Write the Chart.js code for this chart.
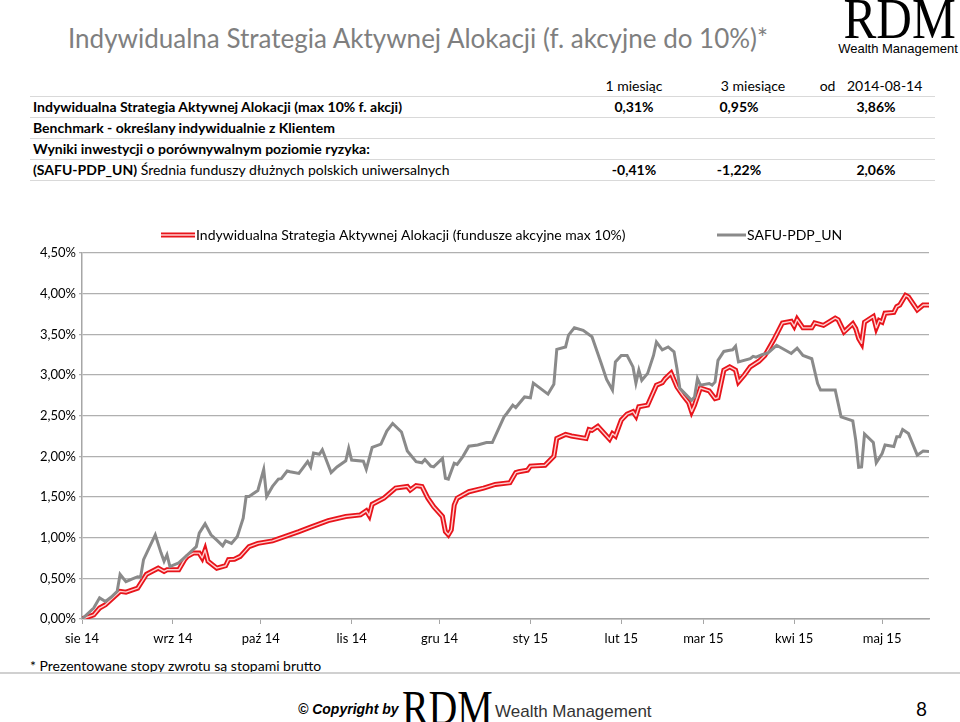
<!DOCTYPE html>
<html lang="pl">
<head>
<meta charset="utf-8">
<title>Indywidualna Strategia Aktywnej Alokacji</title>
<script src="https://cdn.jsdelivr.net/npm/chart.js@4.4.1/dist/chart.umd.min.js"></script>
<style>
  html, body { margin: 0; padding: 0; background: #fff; }
  body { width: 960px; height: 722px; position: relative; overflow: hidden; font-family: Lato, "Open Sans", sans-serif; color: #000; }
  .title { position: absolute; left: 68px; top: 22px; font-size: 26px; line-height: 32px; color: #7f7f7f; white-space: nowrap; }
  .logo { position: absolute; left: 836px; top: -4px; width: 124px; text-align: center; }
  .logo .rdm { display: block; font-family: "Liberation Serif", serif; font-size: 56px; line-height: 46px; transform: scaleX(0.88); }
  .logo .wm { display: block; font-family: "Liberation Sans", Arial, sans-serif; font-size: 13px; line-height: 14px; }
  .tbl { position: absolute; left: 30px; top: 76px; width: 905px; }
  .row { position: relative; height: 20px; line-height: 20px; border-bottom: 1px solid #d9d9d9; font-size: 14px; white-space: nowrap; }
  .row .lab { position: absolute; left: 3px; }
  .row .val { position: absolute; width: 140px; margin-left: -70px; text-align: center; }
  .row .val.wide { word-spacing: 8px; }
  .b { font-weight: bold; }
  #wrap { position: absolute; left: 0; top: 215px; width: 960px; height: 440px; }
  .note { position: absolute; left: 30px; top: 656px; font-size: 14px; line-height: 20px; white-space: nowrap; }
  .sep { position: absolute; left: 0; top: 672px; width: 960px; height: 0; border-top: 2px solid #d0d0d0; }
  .copy { position: absolute; left: 298px; top: 701px; font-family: "Liberation Sans", Arial, sans-serif; font-size: 14px; font-weight: bold; font-style: italic; white-space: nowrap; }
  .frdm { position: absolute; left: 402px; top: 684px; font-family: "Liberation Serif", serif; font-size: 48px; line-height: 48px; transform: scaleX(0.83); transform-origin: left top; }
  .fwm { position: absolute; left: 495px; top: 702px; font-family: "Liberation Sans", Arial, sans-serif; font-size: 17px; color: #333; white-space: nowrap; }
  .page { position: absolute; left: 916px; top: 697px; font-size: 19px; }
</style>
</head>
<body>
<div class="title">Indywidualna Strategia Aktywnej Alokacji (f. akcyjne do 10%)*</div>
<div class="logo"><span class="rdm">RDM</span><span class="wm">Wealth Management</span></div>
<div class="tbl" id="tbl"></div>
<div id="wrap"><canvas id="chart"></canvas></div>
<div class="note">* Prezentowane stopy zwrotu są stopami brutto</div>
<div class="sep"></div>
<div class="copy">© Copyright by</div>
<div class="frdm">RDM</div>
<div class="fwm">Wealth Management</div>
<div class="page">8</div>
<script>
// okresy i stopy zwrotu z tabeli
const periodLabels = ['1 miesiąc', '3 miesiące', 'od 2014-08-14'];
const strategyReturns = ['0,31%', '0,95%', '3,86%'];
const safuReturns = ['-0,41%', '-1,22%', '2,06%'];

// os X: dni od 2014-08-01
const monthDays = [0, 31, 61, 92, 122, 153, 184, 212, 243, 273];
const monthLabels = ['sie 14', 'wrz 14', 'paź 14', 'lis 14', 'gru 14', 'sty 15', 'lut 15', 'mar 15', 'kwi 15', 'maj 15'];
const lastDay = 289;

const strategyDays = [0,4,6,8,13,15,19,22,26,28,29,33,35,36,38,40,41,42,43,46,49,50,52,54,55,57,60,65,74,78,84,90,95,97,98,99,103,107,111,112,114,116,118,120,123,124,125,126,127,128,132,137,141,146,148,149,152,153,158,161,162,165,167,172,173,174,176,180,181,182,184,186,188,189,190,193,196,198,199,201,203,205,207,208,209,211,214,216,217,219,221,223,224,226,228,231,233,236,239,242,243,244,246,249,250,253,257,258,260,263,264,265,266,267,270,271,272,273,274,277,278,279,281,282,285,287,289];
const strategyValues = [0,0.05,0.135,0.175,0.34,0.33,0.38,0.55,0.625,0.585,0.605,0.605,0.73,0.77,0.81,0.81,0.75,0.85,0.71,0.625,0.655,0.73,0.735,0.77,0.81,0.89,0.93,0.96,1.075,1.13,1.21,1.26,1.28,1.33,1.27,1.41,1.485,1.61,1.63,1.585,1.64,1.63,1.485,1.38,1.26,1.075,1.035,1.095,1.40,1.485,1.565,1.61,1.655,1.675,1.80,1.81,1.83,1.88,1.89,2.00,2.22,2.27,2.25,2.22,2.33,2.32,2.37,2.21,2.28,2.25,2.445,2.52,2.55,2.495,2.61,2.63,2.875,2.905,2.955,3.025,2.855,2.75,2.66,2.55,2.63,2.84,2.805,2.71,2.72,3.06,3.10,3.06,2.915,3.00,3.10,3.17,3.24,3.43,3.64,3.66,3.60,3.685,3.58,3.58,3.64,3.61,3.70,3.68,3.53,3.63,3.57,3.45,3.39,3.65,3.72,3.58,3.67,3.65,3.76,3.77,3.84,3.86,3.98,3.96,3.80,3.86,3.86];

const safuDays = [0,4,6,8,10,12,13,15,17,19,20,21,25,27,28,29,30,33,36,39,40,42,44,46,48,49,51,53,55,56,57,60,62,63,65,67,68,70,71,74,77,78,79,81,82,85,87,90,91,92,96,97,99,102,104,106,109,111,114,116,117,119,120,123,124,125,127,128,130,132,135,138,140,144,145,147,148,151,153,154,159,161,162,165,166,168,171,174,177,179,181,182,184,186,188,189,190,191,193,195,196,198,200,202,203,204,208,209,210,211,214,215,216,217,219,221,222,223,224,228,229,230,232,234,237,242,244,246,249,251,252,257,259,263,264,265,266,267,270,271,273,274,277,278,279,280,282,285,287,289];
const safuValues = [0,0.135,0.26,0.215,0.27,0.34,0.55,0.46,0.49,0.52,0.515,0.73,1.035,0.81,0.71,0.79,0.645,0.69,0.79,0.89,1.055,1.17,1.035,0.97,0.90,0.96,0.93,1.015,1.24,1.505,1.505,1.58,1.84,1.505,1.63,1.72,1.725,1.82,1.81,1.79,1.935,1.87,2.04,2.025,2.08,1.80,1.87,1.945,2.10,1.955,1.94,1.84,2.11,2.15,2.31,2.405,2.30,2.065,1.935,1.92,1.96,1.88,1.87,1.975,1.73,1.72,1.915,1.90,2.00,2.125,2.14,2.17,2.17,2.485,2.53,2.63,2.60,2.73,2.72,2.90,2.765,2.885,3.315,3.345,3.49,3.58,3.55,3.47,3.16,2.945,2.815,3.16,3.24,3.24,3.10,2.90,3.06,2.935,3.02,3.24,3.405,3.31,3.345,3.285,3.08,2.835,2.69,2.73,2.955,2.875,2.895,2.875,2.915,3.18,3.29,3.305,3.31,3.355,3.16,3.20,3.23,3.22,3.25,3.27,3.365,3.265,3.33,3.24,3.20,2.895,2.815,2.815,2.485,2.435,2.20,1.865,1.87,2.275,2.17,1.92,2.035,2.14,2.12,2.24,2.24,2.33,2.28,2.015,2.065,2.06];

const strategyName = 'Indywidualna Strategia Aktywnej Alokacji (fundusze akcyjne max 10%)';
const safuName = 'SAFU-PDP_UN';

// tabela
const headCenters = [604, 723, 841];
const valCenters = [604, 709, 846];
const rows = [
  { head: true, lab: '', vals: periodLabels, centers: headCenters, bold: false },
  { lab: '<span class="b">Indywidualna Strategia Aktywnej Alokacji (max 10% f. akcji)</span>', vals: strategyReturns, centers: valCenters, bold: true },
  { lab: '<span class="b">Benchmark - określany indywidualnie z Klientem</span>', vals: [], centers: valCenters, bold: true },
  { lab: '<span class="b">Wyniki inwestycji o porównywalnym poziomie ryzyka:</span>', vals: [], centers: valCenters, bold: true },
  { lab: '<span class="b">(SAFU-PDP_UN)</span> Średnia funduszy dłużnych polskich uniwersalnych', vals: safuReturns, centers: valCenters, bold: true }
];
const tbl = document.getElementById('tbl');
rows.forEach(r => {
  const div = document.createElement('div');
  div.className = 'row';
  let html = '<span class="lab">' + r.lab + '</span>';
  r.vals.forEach((v, i) => {
    let cls = 'val' + (r.bold ? ' b' : '') + (r.head && i === 2 ? ' wide' : '');
    html += '<span class="' + cls + '" style="left:' + r.centers[i] + 'px">' + v + '</span>';
  });
  div.innerHTML = html;
  tbl.appendChild(div);
});

const toPoints = (days, vals) => days.map((d, i) => ({ x: d, y: vals[i] }));

// podwojna czerwona linia (jasny srodek)
const doubleLine = {
  id: 'doubleLine',
  afterDatasetDraw(chart, args) {
    const ds = chart.data.datasets[args.index];
    if (!ds.innerColor) return;
    const pts = args.meta.data;
    const ctx = chart.ctx;
    ctx.save();
    ctx.beginPath();
    pts.forEach((p, i) => i ? ctx.lineTo(p.x, p.y) : ctx.moveTo(p.x, p.y));
    ctx.strokeStyle = ds.innerColor;
    ctx.lineWidth = 1.4;
    ctx.lineJoin = 'round';
    ctx.stroke();
    ctx.restore();
  }
};

const legendPlugin = {
  id: 'customLegend',
  afterDraw(chart) {
    const ctx = chart.ctx;
    const y = 20;
    ctx.save();
    ctx.lineCap = 'butt';
    ctx.beginPath(); ctx.moveTo(161, y); ctx.lineTo(195, y);
    ctx.strokeStyle = '#e8141b'; ctx.lineWidth = 5; ctx.stroke();
    ctx.beginPath(); ctx.moveTo(161, y); ctx.lineTo(195, y);
    ctx.strokeStyle = '#ffd0d0'; ctx.lineWidth = 1.4; ctx.stroke();
    ctx.beginPath(); ctx.moveTo(717, y); ctx.lineTo(746, y);
    ctx.strokeStyle = '#8a8a8a'; ctx.lineWidth = 3; ctx.stroke();
    ctx.fillStyle = '#000';
    ctx.font = '14px Lato';
    ctx.textBaseline = 'middle';
    ctx.fillText(strategyName, 196, y);
    ctx.fillText(safuName, 747, y);
    ctx.restore();
  }
};

new Chart(document.getElementById('chart'), {
  type: 'line',
  data: {
    datasets: [
      {
        label: strategyName,
        data: toPoints(strategyDays, strategyValues),
        borderColor: '#e8141b',
        innerColor: '#ffd0d0',
        borderWidth: 5,
        pointRadius: 0,
        tension: 0,
        order: 1
      },
      {
        label: safuName,
        data: toPoints(safuDays, safuValues),
        borderColor: '#8a8a8a',
        borderWidth: 3,
        pointRadius: 0,
        tension: 0,
        order: 0
      }
    ]
  },
  options: {
    responsive: true,
    maintainAspectRatio: false,
    animation: false,
    layout: { padding: { top: 38, right: 31, bottom: 0, left: 0 } },
    plugins: { legend: { display: false }, tooltip: { enabled: false } },
    scales: {
      x: {
        type: 'linear',
        min: 0,
        max: lastDay,
        afterBuildTicks: s => { s.ticks = monthDays.map(v => ({ value: v })); },
        afterFit: s => { s.height = 36; },
        ticks: {
          padding: 7,
          color: '#000',
          font: { family: 'Lato', size: 13 },
          callback: v => monthLabels[monthDays.indexOf(v)]
        },
        grid: { drawOnChartArea: false, drawTicks: true, tickLength: 5, color: '#a6a6a6' },
        border: { color: '#a6a6a6', width: 1.5 }
      },
      y: {
        min: 0,
        max: 4.5,
        afterFit: s => { s.width = 82; },
        ticks: {
          stepSize: 0.5,
          padding: 3,
          color: '#000',
          font: { family: 'Lato', size: 13 },
          callback: v => v.toFixed(2).replace('.', ',') + '%'
        },
        grid: { color: '#b0b0b0', lineWidth: 1.3, tickLength: 3 },
        border: { color: '#a6a6a6', width: 1.5 }
      }
    }
  },
  plugins: [doubleLine, legendPlugin]
});
</script>
</body>
</html>
